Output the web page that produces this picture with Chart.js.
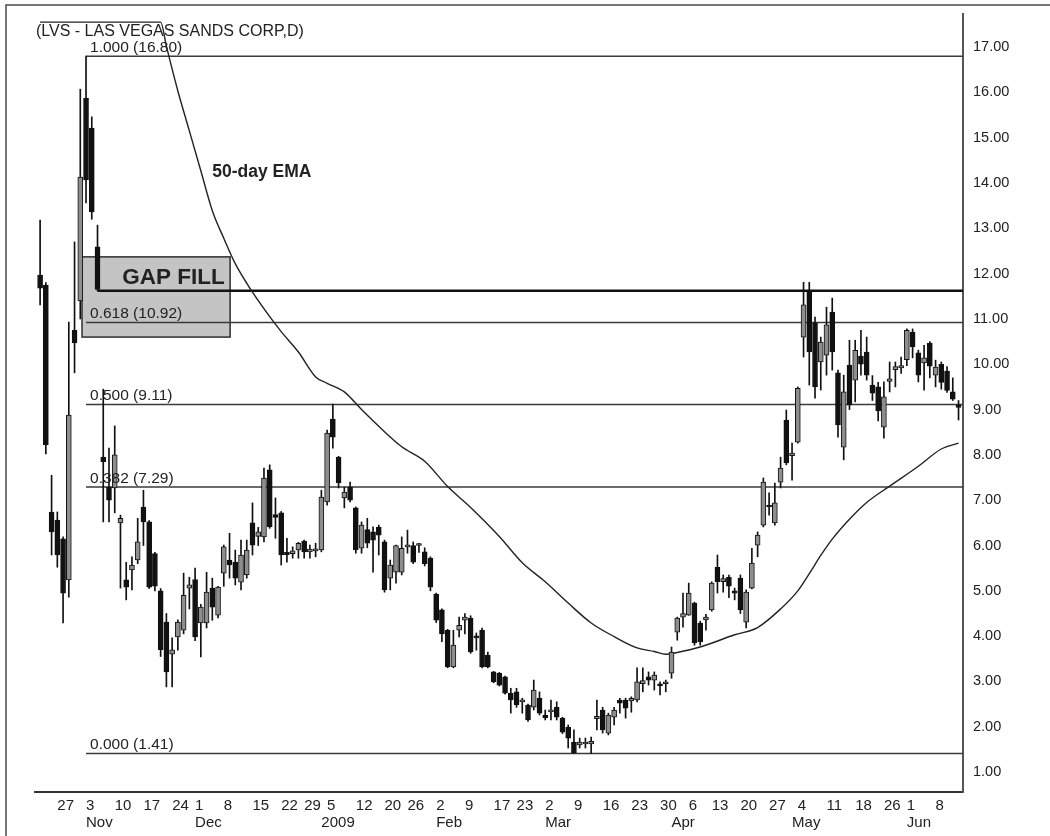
<!DOCTYPE html>
<html>
<head>
    <title>LVS - Las Vegas Sands Corp, daily</title>
    <script src="https://cdn.jsdelivr.net/npm/chart.js"></script>
    <style>
        html, body { margin: 0; padding: 0; background: #ffffff; }
        #lvsChart { display: block; }
    </style>
</head>
<body>
    <canvas id="lvsChart" width="1050" height="836"></canvas>

    <script>
        // daily sessions, 22 Oct 2008 - 12 Jun 2009
        var sessions = [
            '2008-10-22','2008-10-23','2008-10-24','2008-10-27','2008-10-28','2008-10-29','2008-10-30','2008-10-31',
            '2008-11-03','2008-11-04','2008-11-05','2008-11-06','2008-11-07','2008-11-10','2008-11-11','2008-11-12','2008-11-13','2008-11-14',
            '2008-11-17','2008-11-18','2008-11-19','2008-11-20','2008-11-21','2008-11-24','2008-11-25','2008-11-26','2008-11-28',
            '2008-12-01','2008-12-02','2008-12-03','2008-12-04','2008-12-05','2008-12-08','2008-12-09','2008-12-10','2008-12-11','2008-12-12',
            '2008-12-15','2008-12-16','2008-12-17','2008-12-18','2008-12-19','2008-12-22','2008-12-23','2008-12-24','2008-12-26',
            '2008-12-29','2008-12-30','2008-12-31',
            '2009-01-02','2009-01-05','2009-01-06','2009-01-07','2009-01-08','2009-01-09','2009-01-12','2009-01-13','2009-01-14','2009-01-15',
            '2009-01-16','2009-01-20','2009-01-21','2009-01-22','2009-01-23','2009-01-26','2009-01-27','2009-01-28','2009-01-29','2009-01-30',
            '2009-02-02','2009-02-03','2009-02-04','2009-02-05','2009-02-06','2009-02-09','2009-02-10','2009-02-11','2009-02-12','2009-02-13',
            '2009-02-17','2009-02-18','2009-02-19','2009-02-20','2009-02-23','2009-02-24','2009-02-25','2009-02-26','2009-02-27',
            '2009-03-02','2009-03-03','2009-03-04','2009-03-05','2009-03-06','2009-03-09','2009-03-10','2009-03-11','2009-03-12','2009-03-13',
            '2009-03-16','2009-03-17','2009-03-18','2009-03-19','2009-03-20','2009-03-23','2009-03-24','2009-03-25','2009-03-26','2009-03-27',
            '2009-03-30','2009-03-31',
            '2009-04-01','2009-04-02','2009-04-03','2009-04-06','2009-04-07','2009-04-08','2009-04-09','2009-04-13','2009-04-14','2009-04-15',
            '2009-04-16','2009-04-17','2009-04-20','2009-04-21','2009-04-22','2009-04-23','2009-04-24','2009-04-27','2009-04-28','2009-04-29',
            '2009-04-30',
            '2009-05-01','2009-05-04','2009-05-05','2009-05-06','2009-05-07','2009-05-08','2009-05-11','2009-05-12','2009-05-13','2009-05-14',
            '2009-05-15','2009-05-18','2009-05-19','2009-05-20','2009-05-21','2009-05-22','2009-05-26','2009-05-27','2009-05-28','2009-05-29',
            '2009-06-01','2009-06-02','2009-06-03','2009-06-04','2009-06-05','2009-06-08','2009-06-09','2009-06-10','2009-06-11','2009-06-12'
        ];

        var opens = [
            11.97, 11.75, 6.74, 6.56, 6.15, 5.24, 10.75, 11.40,
            15.87, 15.21, 12.59, 7.95, 7.29, 7.27, 6.50, 5.24, 5.46, 5.68, 6.85, 6.52, 5.82, 5.00, 4.31, 3.60, 3.98, 4.13, 5.06,
            5.25, 4.29, 4.29, 5.06, 4.46, 5.39, 5.68, 5.63, 5.19, 5.35, 6.50, 6.20, 6.19, 7.67, 6.68, 6.72, 5.85, 5.82, 5.90, 6.10, 5.86, 5.88,
            5.90, 6.96, 8.79, 7.95, 7.05, 7.29, 6.83, 5.94, 6.35, 6.30, 6.40, 6.08, 5.28, 5.41, 5.41, 5.97, 6.00, 6.00, 5.86, 5.72,
            4.93, 4.58, 4.13, 3.32, 4.13, 4.35, 4.40, 4.00, 4.13, 3.58, 3.21, 3.18, 3.10, 2.74, 2.77, 2.55, 2.48, 2.43, 2.63,
            2.25, 2.33, 2.43, 2.19, 1.99, 1.66, 1.60, 1.62, 1.62, 2.18, 2.37, 1.86, 2.21, 2.59, 2.59, 2.57, 2.59, 2.95, 3.10, 3.03, 2.95, 2.95,
            3.18, 4.09, 4.42, 4.46, 4.73, 4.29, 4.36, 4.58, 5.52, 5.20, 5.30, 5.00, 5.28, 4.31, 5.06, 6.01, 6.45, 6.89, 6.50, 7.40, 8.77,
            7.98, 8.28, 10.60, 11.59, 10.91, 10.05, 10.20, 11.15, 9.81, 8.17, 9.98, 9.65, 10.18, 10.27, 9.54, 9.50, 8.61, 9.62, 9.88, 9.92,
            10.10, 10.71, 10.25, 10.03, 10.47, 9.76, 10.00, 9.85, 9.39, 9.10
        ];
        var highs = [
            13.18, 11.80, 7.55, 6.74, 6.19, 10.93, 12.70, 16.07,
            16.80, 15.46, 13.07, 9.45, 8.15, 8.64, 6.67, 5.63, 5.75, 6.60, 7.22, 6.55, 5.85, 5.05, 4.50, 3.96, 4.36, 5.39, 5.30,
            5.50, 4.70, 5.41, 5.28, 5.10, 6.01, 6.27, 5.90, 6.12, 6.12, 6.94, 6.40, 7.71, 7.78, 7.05, 6.75, 6.16, 5.97, 6.07, 6.12, 6.01, 6.05,
            7.22, 8.55, 9.12, 7.97, 7.29, 7.40, 6.85, 6.52, 6.60, 6.41, 6.45, 6.12, 5.68, 6.01, 6.19, 6.34, 6.08, 6.05, 5.95, 5.75,
            4.95, 4.60, 4.15, 4.13, 4.42, 4.50, 4.45, 4.07, 4.18, 3.65, 3.22, 3.20, 3.12, 2.85, 2.85, 2.63, 2.50, 3.03, 2.77,
            2.37, 2.59, 2.55, 2.21, 2.04, 1.93, 1.75, 1.75, 1.77, 2.59, 2.43, 2.30, 2.43, 2.63, 2.63, 2.66, 3.30, 3.30, 3.21, 3.21, 2.99, 3.03,
            3.76, 4.42, 4.95, 5.17, 4.75, 4.33, 4.48, 5.20, 5.79, 5.35, 5.35, 5.06, 5.35, 5.02, 5.94, 6.30, 7.49, 7.16, 7.38, 7.95, 8.99,
            8.26, 9.50, 11.81, 11.81, 11.04, 10.60, 11.26, 11.46, 9.87, 9.76, 10.53, 10.53, 10.75, 10.60, 9.75, 9.60, 9.61, 10.05, 10.05, 10.16,
            10.78, 10.78, 10.31, 10.42, 10.50, 10.09, 10.05, 9.95, 9.70, 9.20
        ];
        var lows = [
            11.31, 8.02, 5.79, 5.52, 4.29, 4.86, 9.81, 11.00,
            13.56, 13.20, 11.62, 6.52, 6.52, 6.72, 5.06, 4.80, 5.02, 5.60, 6.00, 5.05, 5.00, 3.55, 2.88, 2.88, 3.69, 4.05, 4.60,
            3.90, 3.54, 4.18, 4.35, 4.40, 5.10, 5.28, 5.13, 5.02, 5.28, 5.79, 6.00, 6.08, 6.38, 6.16, 5.57, 5.63, 5.72, 5.72, 5.72, 5.72, 5.75,
            5.86, 6.89, 8.15, 7.27, 6.83, 6.96, 5.83, 5.83, 5.95, 5.41, 5.79, 4.97, 5.02, 5.17, 5.35, 5.83, 5.60, 5.85, 5.55, 5.00,
            4.30, 3.88, 3.30, 3.30, 3.98, 4.05, 3.62, 3.69, 3.30, 3.30, 2.97, 2.90, 2.72, 2.30, 2.43, 2.30, 2.12, 2.37, 2.26,
            2.15, 2.15, 2.15, 1.85, 1.53, 1.41, 1.53, 1.53, 1.41, 1.93, 1.86, 1.82, 2.04, 2.30, 2.19, 2.32, 2.55, 2.77, 2.92, 2.81, 2.70, 2.77,
            3.07, 3.91, 4.20, 4.46, 3.80, 3.80, 4.13, 4.55, 4.95, 4.97, 4.85, 4.80, 4.50, 4.18, 5.04, 5.75, 6.41, 6.67, 6.45, 7.27, 7.78,
            7.44, 8.26, 10.16, 9.54, 9.25, 9.43, 9.76, 9.87, 8.39, 7.89, 9.00, 9.17, 9.76, 9.65, 9.20, 8.75, 8.37, 9.39, 9.50, 9.80,
            9.97, 10.14, 9.61, 9.43, 9.70, 9.50, 9.45, 9.38, 9.20, 8.77
        ];
        var closes = [
            11.68, 8.22, 6.30, 5.79, 4.95, 8.88, 10.47, 14.13,
            14.07, 13.36, 11.65, 7.85, 7.00, 8.00, 6.60, 5.08, 5.57, 6.08, 6.52, 5.08, 5.10, 3.70, 3.21, 3.70, 4.31, 4.90, 5.13,
            3.98, 4.64, 4.97, 4.64, 5.08, 5.97, 5.57, 5.28, 5.79, 5.90, 6.01, 6.30, 7.49, 6.41, 6.62, 5.79, 5.80, 5.88, 6.05, 5.86, 5.92, 5.92,
            7.07, 8.48, 8.39, 7.38, 7.18, 7.00, 5.90, 6.45, 6.05, 6.12, 6.23, 5.02, 5.57, 6.00, 5.94, 6.00, 5.63, 6.02, 5.60, 5.08,
            4.35, 4.05, 3.32, 3.80, 4.24, 4.42, 3.65, 3.96, 3.32, 3.32, 2.99, 2.92, 2.74, 2.59, 2.48, 2.59, 2.15, 2.81, 2.30,
            2.20, 2.37, 2.21, 1.88, 1.75, 1.42, 1.66, 1.66, 1.68, 2.23, 1.93, 2.26, 2.37, 2.52, 2.41, 2.63, 2.99, 3.02, 3.03, 3.14, 2.90, 2.99,
            3.65, 4.40, 4.50, 4.95, 3.85, 3.87, 4.42, 5.17, 5.20, 5.27, 5.10, 4.95, 4.58, 4.97, 5.61, 6.23, 7.40, 6.85, 6.94, 7.71, 7.82,
            8.04, 9.47, 11.31, 10.27, 9.50, 10.49, 10.87, 10.27, 8.66, 9.39, 9.10, 10.31, 10.00, 9.76, 9.36, 8.97, 9.28, 9.68, 9.95, 9.97,
            10.75, 10.38, 9.76, 10.14, 9.96, 9.94, 9.60, 9.42, 9.23, 9.05
        ];

        // 50-day EMA, read at selected sessions
        var emaDates = [
            '2008-10-22','2008-11-20','2008-11-21','2008-11-25','2008-11-28','2008-12-02','2008-12-04','2008-12-08','2008-12-10','2008-12-15',
            '2008-12-18','2008-12-22','2008-12-26','2008-12-31','2009-01-05','2009-01-08','2009-01-13','2009-01-16','2009-01-23','2009-01-29',
            '2009-02-04','2009-02-10','2009-02-18','2009-02-24','2009-03-02','2009-03-06','2009-03-12','2009-03-18','2009-03-24','2009-03-27',
            '2009-03-31','2009-04-02','2009-04-08','2009-04-17','2009-04-23','2009-04-29','2009-05-04','2009-05-06','2009-05-08','2009-05-12',
            '2009-05-15','2009-05-20','2009-05-27','2009-06-03','2009-06-09','2009-06-12'
        ];
        var emaValues = [
            17.55, 17.55, 17.02, 16.03, 15.15, 14.27, 13.39, 12.78, 12.22, 11.59,
            11.05, 10.72, 10.27, 9.72, 9.58, 9.39, 9.00, 8.63, 8.18, 7.86,
            7.30, 6.84, 6.20, 5.62, 5.20, 4.73, 4.29, 3.99, 3.74, 3.66,
            3.60, 3.64, 3.76, 4.03, 4.19, 4.60, 5.00, 5.38, 5.78, 6.14,
            6.58, 6.95, 7.31, 7.75, 8.13, 8.26
        ];

        // Fibonacci retracement of the 3 Nov high to the 9 Mar low
        var fibRatios = [1.000, 0.618, 0.500, 0.382, 0.000];
        var fibPrices = [16.80, 10.92, 9.11, 7.29, 1.41];
        var fibFrom = '2008-11-03';

        var gapFillPrice = 11.62;
        var gapFillFrom = '2008-11-05';

        var weekStarts = [
            '2008-10-27','2008-11-03','2008-11-10','2008-11-17','2008-11-24','2008-12-01','2008-12-08','2008-12-15','2008-12-22','2008-12-29',
            '2009-01-05','2009-01-12','2009-01-20','2009-01-26','2009-02-02','2009-02-09','2009-02-17','2009-02-23','2009-03-02','2009-03-09',
            '2009-03-16','2009-03-23','2009-03-30','2009-04-06','2009-04-13','2009-04-20','2009-04-27','2009-05-04','2009-05-11','2009-05-18',
            '2009-05-26','2009-06-01','2009-06-08'
        ];
        var weekLabels = ['27','3','10','17','24','1','8','15','22','29','5','12','20','26','2','9','17','23','2','9',
                          '16','23','30','6','13','20','27','4','11','18','26','1','8'];
        var monthStarts = ['2008-11-03','2008-12-01','2009-01-02','2009-02-02','2009-03-02','2009-04-01','2009-05-01','2009-06-01'];
        var monthLabels = ['Nov','Dec','2009','Feb','Mar','Apr','May','Jun'];

        var priceTicks = [1, 2, 3, 4, 5, 6, 7, 8, 9, 10, 11, 12, 13, 14, 15, 16, 17];

        // axis extents (session index / price)
        var dayMin = -0.89, dayMax = 160.78;
        var priceMin = 0.56, priceMax = 17.73;

        // shaded gap area and the two text notes, in session index / price
        var gapBox = { fromDay: 7.3, toDay: 33.1, low: 10.60, high: 12.37 };
        var gapNote = { day: 14.3, price: 11.90, text: 'GAP FILL' };
        var emaNote = { day: 30.0, price: 14.24, text: '50-day EMA' };

        function dayOf(date) { return sessions.indexOf(date); }

        var wicks = sessions.map(function (d, i) { return { x: i, y: [lows[i], highs[i]] }; });
        var bodies = sessions.map(function (d, i) { return { x: i, y: [opens[i], closes[i]] }; });
        var bodyColors = sessions.map(function (d, i) { return closes[i] >= opens[i] ? '#8e8e8e' : '#111111'; });
        var ema = emaDates.map(function (d, k) { return { x: dayOf(d), y: emaValues[k] }; });

        var levelSets = fibPrices.map(function (p) {
            return {
                type: 'line',
                data: [{ x: dayOf(fibFrom), y: p }, { x: dayMax, y: p }],
                borderColor: '#3a3a3a',
                borderWidth: 1.5,
                pointRadius: 0,
                order: 6
            };
        });
        levelSets.push({
            type: 'line',
            data: [{ x: dayOf(gapFillFrom), y: gapFillPrice }, { x: dayMax, y: gapFillPrice }],
            borderColor: '#111111',
            borderWidth: 2.5,
            pointRadius: 0,
            order: 5
        });

        var weekIdx = weekStarts.map(dayOf);
        var monthIdx = monthStarts.map(dayOf);

        var notes = {
            id: 'notes',
            beforeDraw: function (chart) {
                var ctx = chart.ctx;
                ctx.save();
                ctx.fillStyle = '#ffffff';
                ctx.fillRect(0, 0, chart.width, chart.height);
                ctx.restore();
            },
            beforeDatasetsDraw: function (chart) {
                var x = chart.scales.x, y = chart.scales.y, ctx = chart.ctx;
                var l = x.getPixelForValue(gapBox.fromDay), r = x.getPixelForValue(gapBox.toDay);
                var t = y.getPixelForValue(gapBox.high), b = y.getPixelForValue(gapBox.low);
                ctx.save();
                ctx.fillStyle = '#c4c4c4';
                ctx.fillRect(l, t, r - l, b - t);
                ctx.strokeStyle = '#2e2e2e';
                ctx.lineWidth = 1.5;
                ctx.strokeRect(l, t, r - l, b - t);
                ctx.restore();
            },
            afterDatasetsDraw: function (chart) {
                var x = chart.scales.x, y = chart.scales.y, ctx = chart.ctx;
                ctx.save();
                ctx.fillStyle = '#222222';
                ctx.textAlign = 'left';

                // fib level captions sit just above their lines
                ctx.font = "15.5px 'Liberation Sans', Arial, sans-serif";
                ctx.textBaseline = 'bottom';
                var fx = x.getPixelForValue(dayOf(fibFrom)) + 4;
                fibPrices.forEach(function (p, k) {
                    ctx.fillText(fibRatios[k].toFixed(3) + ' (' + p.toFixed(2) + ')', fx, y.getPixelForValue(p) - 1);
                });

                ctx.textBaseline = 'middle';
                ctx.font = "bold 22.5px 'Liberation Sans', Arial, sans-serif";
                ctx.fillText(gapNote.text, x.getPixelForValue(gapNote.day), y.getPixelForValue(gapNote.price));
                ctx.font = "bold 17.5px 'Liberation Sans', Arial, sans-serif";
                ctx.fillText(emaNote.text, x.getPixelForValue(emaNote.day), y.getPixelForValue(emaNote.price));

                ctx.font = "16px 'Liberation Sans', Arial, sans-serif";
                ctx.fillText('(LVS - LAS VEGAS SANDS CORP,D)', 36, 32);
                ctx.restore();
            },
            afterDraw: function (chart) {
                var ctx = chart.ctx;
                ctx.save();
                ctx.strokeStyle = '#4a4a4a';
                ctx.lineWidth = 1.5;
                ctx.strokeRect(6, 5, chart.width + 20, chart.height + 20);
                ctx.restore();
            }
        };

        Chart.defaults.font.family = "'Liberation Sans', Arial, sans-serif";
        Chart.defaults.color = '#222222';

        var ctx = document.getElementById('lvsChart').getContext('2d');
        var lvsChart = new Chart(ctx, {
            type: 'bar',
            data: {
                datasets: [
                    {
                        label: 'body',
                        data: bodies,
                        backgroundColor: bodyColors,
                        borderColor: '#111111',
                        borderWidth: 1,
                        borderSkipped: false,
                        barThickness: 5,
                        minBarLength: 2,
                        grouped: false,
                        order: 1
                    },
                    {
                        label: 'range',
                        data: wicks,
                        backgroundColor: '#111111',
                        barThickness: 1,
                        grouped: false,
                        order: 2
                    },
                    {
                        type: 'line',
                        label: '50-day EMA',
                        data: ema,
                        borderColor: '#222222',
                        borderWidth: 1.4,
                        pointRadius: 0,
                        cubicInterpolationMode: 'monotone',
                        order: 3
                    }
                ].concat(levelSets)
            },
            options: {
                responsive: false,
                animation: false,
                devicePixelRatio: 1,
                layout: { padding: { left: 35, top: 14, right: 0, bottom: 0 } },
                plugins: {
                    legend: { display: false },
                    tooltip: { enabled: false }
                },
                scales: {
                    x: {
                        type: 'linear',
                        position: 'bottom',
                        min: dayMin,
                        max: dayMax,
                        bounds: 'data',
                        offset: false,
                        grid: { display: false, drawTicks: false },
                        border: { display: true, color: '#333333', width: 2 },
                        afterBuildTicks: function (axis) {
                            axis.ticks = weekIdx.map(function (v) { return { value: v }; });
                        },
                        afterFit: function (axis) {
                            axis.height = 22;
                            axis.paddingLeft = 0;
                            axis.paddingRight = 0;
                        },
                        ticks: {
                            autoSkip: false,
                            maxRotation: 0,
                            minRotation: 0,
                            align: 'start',
                            padding: 5,
                            font: { size: 15 },
                            color: '#222222',
                            callback: function (value) {
                                var k = weekIdx.indexOf(value);
                                return k >= 0 ? weekLabels[k] : '';
                            }
                        }
                    },
                    xMonth: {
                        type: 'linear',
                        position: 'bottom',
                        weight: 1,
                        min: dayMin,
                        max: dayMax,
                        bounds: 'data',
                        offset: false,
                        grid: { display: false, drawTicks: false },
                        border: { display: false },
                        afterBuildTicks: function (axis) {
                            axis.ticks = monthIdx.map(function (v) { return { value: v }; });
                        },
                        afterFit: function (axis) {
                            axis.height = 22;
                            axis.paddingLeft = 0;
                            axis.paddingRight = 0;
                        },
                        ticks: {
                            autoSkip: false,
                            maxRotation: 0,
                            minRotation: 0,
                            align: 'start',
                            padding: 0,
                            font: { size: 15 },
                            color: '#222222',
                            callback: function (value) {
                                var k = monthIdx.indexOf(value);
                                return k >= 0 ? monthLabels[k] : '';
                            }
                        }
                    },
                    y: {
                        type: 'linear',
                        position: 'right',
                        min: priceMin,
                        max: priceMax,
                        bounds: 'data',
                        grid: { display: false, drawTicks: false },
                        border: { display: true, color: '#555555', width: 2 },
                        afterBuildTicks: function (axis) {
                            axis.ticks = priceTicks.map(function (v) { return { value: v }; });
                        },
                        afterFit: function (axis) {
                            axis.width = 87;
                            axis.paddingTop = 0;
                            axis.paddingBottom = 0;
                        },
                        ticks: {
                            padding: 10,
                            font: { size: 14.5 },
                            color: '#222222',
                            callback: function (value) { return value.toFixed(2); }
                        }
                    }
                }
            },
            plugins: [notes]
        });
    </script>
</body>
</html>
